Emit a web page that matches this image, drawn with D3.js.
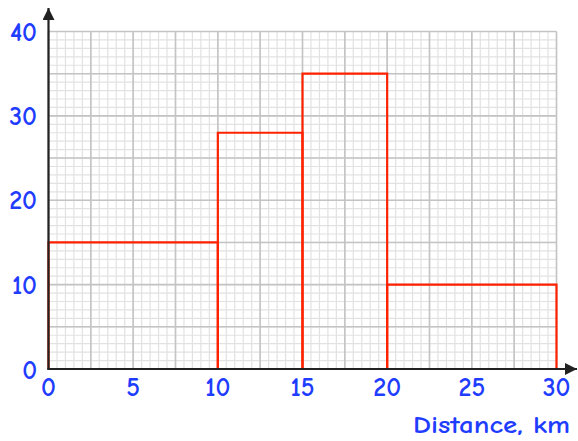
<!DOCTYPE html>
<html><head><meta charset="utf-8">
<script src="https://cdn.jsdelivr.net/npm/d3@7"></script>
<style>body{margin:0;background:#fff}svg{display:block}</style>
</head><body>
<script>
const binStarts = [0, 10, 15, 20];
const binEnds = [10, 15, 20, 30];
const densities = [15, 28, 35, 10];
const xTicks = [0, 5, 10, 15, 20, 25, 30];
const yTicks = [10, 20, 30, 40];
const xLabel = "Distance, km";

const W = 578, H = 441;
const svg = d3.select("body").append("svg").attr("width", W).attr("height", H);
const x = d3.scaleLinear().domain([0, 30]).range([48.5, 556.5]);
const y = d3.scaleLinear().domain([0, 40]).range([369, 31.5]);

const font = "'Comic Sans MS','Comic Neue','DejaVu Sans',sans-serif";
const blue = "#1f3dff";

// grid
const g = svg.append("g");
const minorX = d3.range(0, 30.001, 0.5), minorY = d3.range(0, 40.001, 1);
g.selectAll("line.mx").data(minorX).join("line")
  .attr("x1", d => x(d)).attr("x2", d => x(d)).attr("y1", y(0)).attr("y2", y(40))
  .attr("stroke", "#e2e2e2").attr("stroke-width", 1.2);
g.selectAll("line.my").data(minorY).join("line")
  .attr("y1", d => y(d)).attr("y2", d => y(d)).attr("x1", x(0)).attr("x2", x(30))
  .attr("stroke", "#e2e2e2").attr("stroke-width", 1.2);
g.selectAll("line.Mx").data(minorX.filter(d => d % 2.5 === 0)).join("line")
  .attr("x1", d => x(d)).attr("x2", d => x(d)).attr("y1", y(0)).attr("y2", y(40))
  .attr("stroke", "#c4c4c4").attr("stroke-width", 1.6);
g.selectAll("line.My").data(minorY.filter(d => d % 5 === 0)).join("line")
  .attr("y1", d => y(d)).attr("y2", d => y(d)).attr("x1", x(0)).attr("x2", x(30))
  .attr("stroke", "#c4c4c4").attr("stroke-width", 1.6);

// histogram outline
const line = d3.line().x(d => x(d[0])).y(d => y(d[1]));
binStarts.forEach((s, i) => {
  svg.append("path")
    .attr("d", line([[s, 0], [s, densities[i]], [binEnds[i], densities[i]], [binEnds[i], 0]]))
    .attr("fill", "none").attr("stroke", "#ff2200").attr("stroke-width", 2.2);
});

// axes
const defs = svg.append("defs");
defs.append("marker").attr("id", "arr").attr("viewBox", "0 0 10 10").attr("refX", 10).attr("refY", 5)
  .attr("markerWidth", 12).attr("markerHeight", 12).attr("markerUnits", "userSpaceOnUse")
  .attr("orient", "auto").append("path").attr("d", "M0,0L10,5L0,10Z").attr("fill", "#222");
svg.append("line").attr("x1", x(0)).attr("x2", x(0)).attr("y1", y(0) + 1).attr("y2", 8)
  .attr("stroke", "#222").attr("stroke-width", 2.2).attr("marker-end", "url(#arr)");
svg.append("line").attr("x1", x(0) - 1).attr("x2", 577).attr("y1", y(0)).attr("y2", y(0))
  .attr("stroke", "#222").attr("stroke-width", 2.2).attr("marker-end", "url(#arr)");

// tick labels
svg.selectAll("text.xt").data(xTicks).join("text")
  .attr("x", d => x(d)).attr("y", 396).attr("text-anchor", "middle")
  .attr("font-family", font).attr("font-size", 26).attr("font-weight", "bold").attr("fill", blue).text(d => d);
svg.selectAll("text.yt").data([0].concat(yTicks)).join("text")
  .attr("x", 37).attr("y", d => y(d) + 9 + (d === 0 ? 1 : 0)).attr("text-anchor", "end")
  .attr("font-family", font).attr("font-size", 26).attr("font-weight", "bold").attr("fill", blue).text(d => d);
svg.append("text").attr("x", 570).attr("y", 433).attr("text-anchor", "end")
  .attr("font-family", font).attr("font-size", 25).attr("font-weight", "bold").attr("fill", blue)
  .attr("textLength", 157).attr("lengthAdjust", "spacingAndGlyphs").text(xLabel);
</script>
</body></html>
